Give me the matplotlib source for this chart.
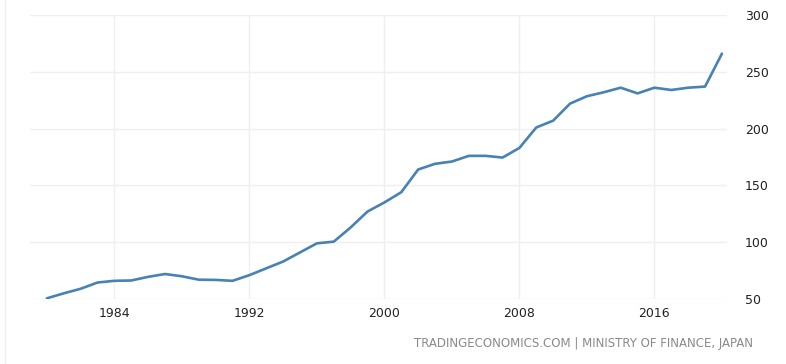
import numpy as np
import matplotlib.pyplot as plt

years = list(range(1980, 2021))
debt = [50.6, 55.0, 59.0, 64.5, 66.0, 66.3, 69.5, 72.0, 70.0, 67.0,
        66.8, 66.0, 71.0, 77.0, 83.0, 91.0, 99.0, 100.5, 113.0, 127.0,
        135.0, 144.0, 164.0, 169.0, 171.0, 176.0, 176.0, 174.5, 183.0, 201.0,
        207.0, 222.0, 228.5, 232.0, 236.0, 231.0, 236.0, 234.0, 236.0, 237.0,
        266.0]

xticks = [1984, 1992, 2000, 2008, 2016]
yticks = [50, 100, 150, 200, 250, 300]

fig = plt.figure(figsize=(7.86, 3.64), dpi=100)
ax = fig.add_axes([30/786, 1 - 299/364, 697/786, 284/364])

ax.plot(years, debt, color='#4682b4', linewidth=1.9,
        solid_joinstyle='round', solid_capstyle='round')

ax.set_xlim(1979.0, 2020.3)
ax.set_ylim(50, 300)
ax.set_xticks(xticks)
ax.set_yticks(yticks)
ax.yaxis.tick_right()
ax.grid(True, color='#efefef', linewidth=1)
ax.set_axisbelow(True)
for s in ax.spines.values():
    s.set_visible(False)
ax.tick_params(length=0, labelsize=9, colors='#222222')
ax.tick_params(axis='y', pad=13)
ax.tick_params(axis='x', pad=6)

fig.text(753/786, 1 - 343/364, 'TRADINGECONOMICS.COM | MINISTRY OF FINANCE, JAPAN',
         ha='right', va='center', fontsize=8.5, color='#8a8a8a')
fig.add_artist(plt.Line2D([5/786, 5/786], [0, 1], color='#eeeeee', linewidth=1))

fig.savefig('out.png', dpi=100)
